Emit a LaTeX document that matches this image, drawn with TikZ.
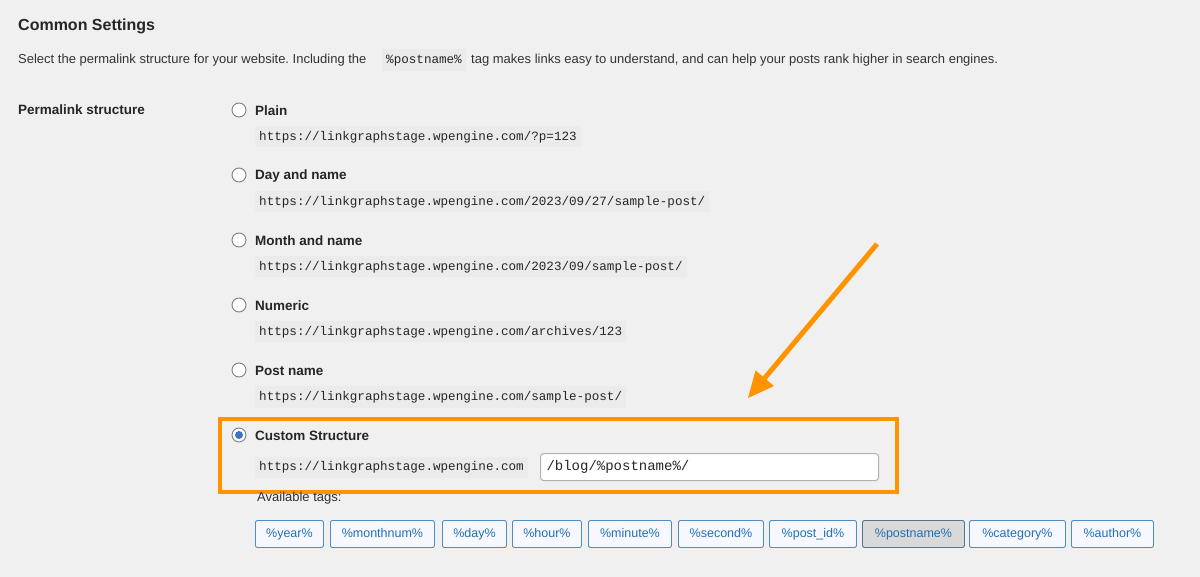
\documentclass[tikz,border=0pt]{standalone}
\usepackage{fontspec}
\setmainfont{Liberation Sans}
\setmonofont{Liberation Mono}
\usetikzlibrary{calc}
\definecolor{orng}{RGB}{255,148,0}
\definecolor{wpblue}{RGB}{56,118,196}
\definecolor{tagblue}{RGB}{34,113,177}
\frenchspacing
\begin{document}
\begin{tikzpicture}[x=1pt,y=-1pt,
  txt/.style={anchor=west,inner sep=0pt,font=\fontsize{13}{15}\selectfont,text=black!80},
  bld/.style={txt,font=\fontsize{13.5}{16}\selectfont\bfseries,text=black!85},
  code/.style={anchor=west,fill=black!8,inner xsep=4pt,minimum height=21pt,inner ysep=0pt,text height=9pt,text depth=2pt,font=\fontsize{12.6}{14}\ttfamily,text=black!85},
  radio/.style={circle,draw=black!50,fill=white,line width=0.9pt,minimum size=14pt,inner sep=0pt},
  tag/.style={draw=tagblue!80,line width=0.9pt,rounded corners=2pt,fill=white!97!blue,minimum height=27pt,anchor=west,inner xsep=0pt,inner ysep=0pt,text height=9pt,text depth=2.5pt,font=\fontsize{12.5}{14}\selectfont,text=tagblue},
  orange/.style={draw=orng,line width=4pt}]
\fill[black!6] (0,0) rectangle (1200,577);
\useasboundingbox (0,0) rectangle (1200,577);
\node[bld,font=\fontsize{16}{18}\selectfont\bfseries] (title) at (18,26) {Common Settings};
\node[txt] (d1) at (18,60) {Select the permalink structure for your website. Including the};
\node[code,anchor=west,minimum height=22pt] (pn) at (382,60) {\%postname\%};
\node[txt] (d2) at (471,60) {tag makes links easy to understand, and can help your posts rank higher in search engines.};
\node[bld] (pl) at (18,110) {Permalink structure};
\foreach \y/\lab/\url [count=\i] in {110/Plain/{https://linkgraphstage.wpengine.com/?p=123},
 175/Day and name/{https://linkgraphstage.wpengine.com/2023/09/27/sample-post/},
 240/Month and name/{https://linkgraphstage.wpengine.com/2023/09/sample-post/},
 305/Numeric/{https://linkgraphstage.wpengine.com/archives/123},
 370/Post name/{https://linkgraphstage.wpengine.com/sample-post/}}{
  \node[radio] (r\i) at (239,\y) {};
  \node[bld] (l\i) at (255,\y+1) {\lab};
  \node[code] (u\i) at (255,\y+27) {\url};
}
\node[radio] (r6) at (239,435) {};
\fill[wpblue] (r6) circle (4pt);
\node[bld] (l6) at (255,436) {Custom Structure};
\node[code] (u6) at (255,467) {https://linkgraphstage.wpengine.com};
\node[draw=black!30,line width=1pt,fill=white,rounded corners=3pt,anchor=west,minimum width=338pt,minimum height=27pt,text width=326pt,inner xsep=6pt,font=\fontsize{14}{16}\ttfamily,text=black!85] (inp) at (540,467) {/blog/\%postname\%/};
\node[orange,minimum width=677pt,minimum height=73pt,anchor=north west] (ob) at (218,417) {};
\coordinate (as) at (877,244);
\coordinate (ae) at (748,398);
\draw[orng,line width=5pt] (as) -- ($(as)!0.9!(ae)$);
\fill[orng] (ae) -- ($(ae)+(26,-12)$) -- ($(ae)+(7.5,-27.6)$) -- cycle;
\node[txt] (av) at (257,498) {Available tags:};
\foreach \a/\b/\t [count=\j] in {255/323/year,330/434/monthnum,442/506/day,512/581/hour,588/671/minute,678/763/second,769/856/post\_id,969/1065/category,1071/1153/author}{
  \node[tag,minimum width=\b pt-\a pt] (t\j) at (\a,534) {\%\t\%};
}
\node[tag,minimum width=102pt,fill=black!15,draw=tagblue!50!black!70] (t10) at (862,534) {\%postname\%};
\end{tikzpicture}
\end{document}
